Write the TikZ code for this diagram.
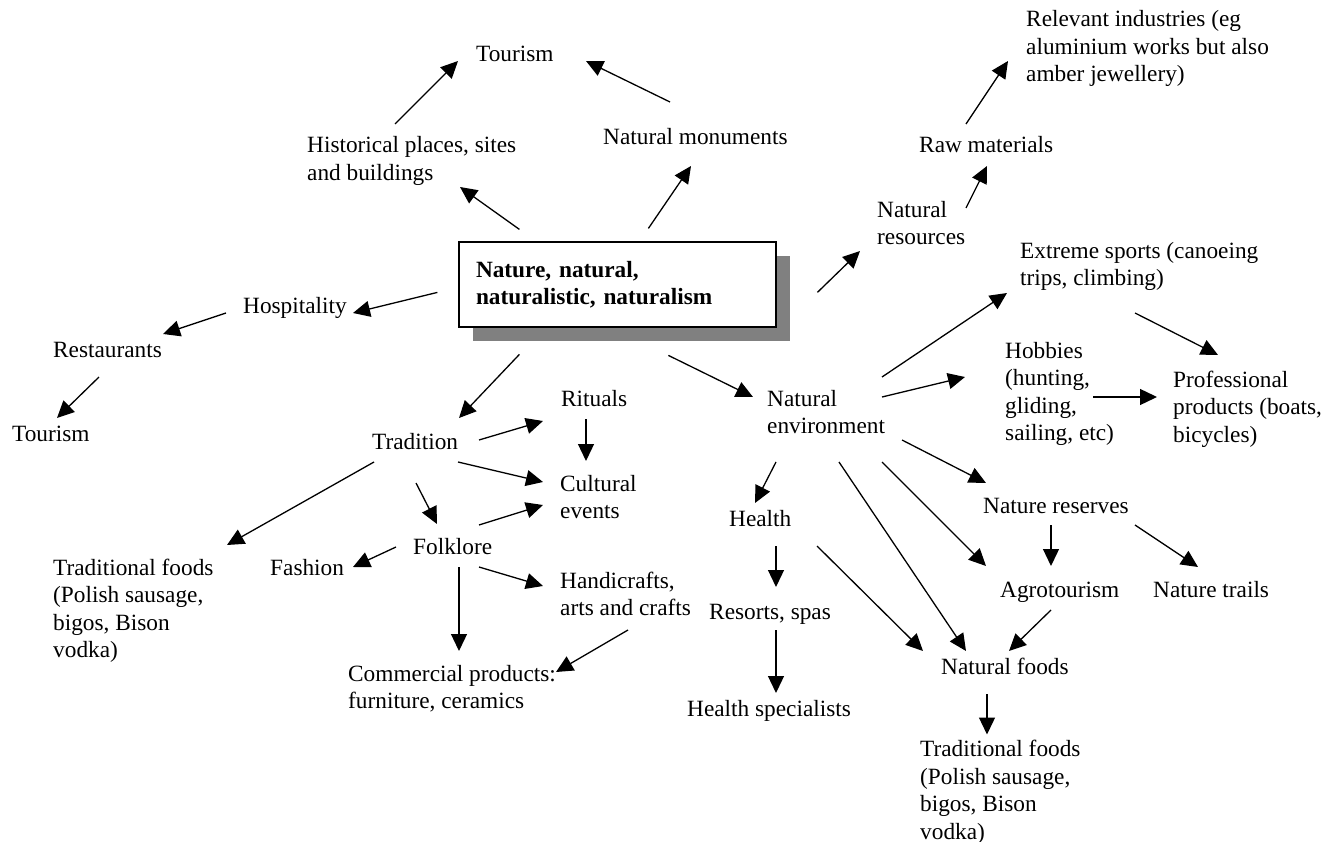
\documentclass[tikz,border=0pt]{standalone}
\usepackage{fontspec}
\setmainfont{Liberation Serif}
\usetikzlibrary{arrows.meta,calc,shadows}
\begin{document}
\frenchspacing
\begin{tikzpicture}[x=1pt,y=-1pt,
  lbl/.style={anchor=base west, inner sep=0pt, align=left, font=\fontsize{23.3}{27.5}\selectfont},
  arr/.style={line width=1.3pt, -{Triangle[length=17pt,width=16pt]}},
  corebox/.style={draw, line width=1.2pt, fill=white,
    drop shadow={shadow xshift=14pt, shadow yshift=-14pt, fill=black!50, opacity=1},
    text width=283pt, inner xsep=17pt, inner ysep=0pt, minimum height=85pt, align=left,
    font=\bfseries\fontsize{23.3}{27.5}\selectfont}]
\useasboundingbox (0,0) rectangle (1335,842);

% central box
\node[corebox] (core) at (617.5,284.5) {Nature, natural,\\naturalistic, naturalism};

% labels (anchored at the baseline of their last line)
\node[lbl] (tourA) at (476,62) {Tourism};
\node[lbl] (hist) at (307,180.5) {Historical places, sites\\and buildings};
\node[lbl] (natmon) at (603,145) {Natural monuments};
\node[lbl] (relev) at (1026,82) {Relevant industries (eg\\aluminium works but also\\amber jewellery)};
\node[lbl] (raw) at (919,153) {Raw materials};
\node[lbl] (natres) at (877,244.5) {Natural\\resources};
\node[lbl] (hosp) at (243,313) {Hospitality};
\node[lbl] (rest) at (53,357) {Restaurants};
\node[lbl] (tourB) at (12,441) {Tourism};
\node[lbl] (extreme) at (1020,285.5) {Extreme sports (canoeing\\trips, climbing)};
\node[lbl] (hobbies) at (1005,440.5) {Hobbies\\(hunting,\\gliding,\\sailing, etc)};
\node[lbl] (prof) at (1173,442) {Professional\\products (boats,\\bicycles)};
\node[lbl] (natenv) at (767,433.5) {Natural\\environment};
\node[lbl] (rituals) at (561,406) {Rituals};
\node[lbl] (trad) at (372,449) {Tradition};
\node[lbl] (cultural) at (560,518.5) {Cultural\\events};
\node[lbl] (folk) at (413,554) {Folklore};
\node[lbl] (fashion) at (270,575) {Fashion};
\node[lbl] (tfA) at (53,657.5) {Traditional foods\\(Polish sausage,\\bigos, Bison\\vodka)};
\node[lbl] (handi) at (560,615.5) {Handicrafts,\\arts and crafts};
\node[lbl] (comm) at (348,708.5) {Commercial products:\\furniture, ceramics};
\node[lbl] (health) at (729,526) {Health};
\node[lbl] (resorts) at (709,619) {Resorts, spas};
\node[lbl] (hspec) at (687,716) {Health specialists};
\node[lbl] (reserves) at (983,513) {Nature reserves};
\node[lbl] (agro) at (1000,597) {Agrotourism};
\node[lbl] (trails) at (1153,597) {Nature trails};
\node[lbl] (natfoods) at (941,674) {Natural foods};
\node[lbl] (tfB) at (920,839) {Traditional foods\\(Polish sausage,\\bigos, Bison\\vodka)};

% connectors
\draw[arr] ($(hist.base west)+(88,-56.5)$) -- ($(tourA.base west)+(-18,-1)$);
\draw[arr] ($(natmon.base west)+(67,-43)$) -- ($(tourA.base west)+(110,-1)$);
\draw[arr] ($(core.north west)+(61,-12)$) -- ($(hist.base west)+(153,6.5)$);
\draw[arr] ($(core.north west)+(190,-13)$) -- ($(natmon.base west)+(88,21)$);
\draw[arr] ($(core.north west)+(359,51)$) -- ($(natres.base west)+(-17,6.5)$);
\draw[arr] ($(natres.base west)+(89,-36.5)$) -- ($(raw.base west)+(68,13)$);
\draw[arr] ($(raw.base west)+(47,-29)$) -- ($(relev.base west)+(-18,-21)$);
\draw[arr] ($(core.north west)+(-21,51)$) -- ($(hosp.base west)+(110,0)$);
\draw[arr] ($(hosp.base west)+(-17,0)$) -- ($(rest.base west)+(110,-23)$);
\draw[arr] ($(rest.base west)+(46,20)$) -- ($(tourB.base west)+(45,-23)$);
\draw[arr] ($(core.north west)+(61,113)$) -- ($(trad.base west)+(87,-31)$);
\draw[arr] ($(core.north west)+(210,114)$) -- ($(natenv.base west)+(-14,-36.5)$);
\draw[arr] ($(natenv.base west)+(115,-56.5)$) -- ($(extreme.base west)+(-13,7.5)$);
\draw[arr] ($(natenv.base west)+(115,-36.5)$) -- ($(hobbies.base west)+(-40,-63.5)$);
\draw[arr] ($(extreme.base west)+(115,27.5)$) -- ($(prof.base west)+(45,-87)$);
\draw[arr] ($(hobbies.base west)+(88,-43.5)$) -- ($(prof.base west)+(-16,-45)$);
\draw[arr] ($(trad.base west)+(107,-9)$) -- ($(rituals.base west)+(-18,15)$);
\draw[arr] ($(rituals.base west)+(25,13)$) -- ($(cultural.base west)+(26,-57.5)$);
\draw[arr] ($(trad.base west)+(86,13)$) -- ($(cultural.base west)+(-17,-36.5)$);
\draw[arr] ($(trad.base west)+(44,34)$) -- ($(folk.base west)+(24,-30)$);
\draw[arr] ($(trad.base west)+(2,13)$) -- ($(tfA.base west)+(174,-112.5)$);
\draw[arr] ($(folk.base west)+(66,-29)$) -- ($(cultural.base west)+(-17,-13.5)$);
\draw[arr] ($(folk.base west)+(-17,-7)$) -- ($(fashion.base west)+(83,-8)$);
\draw[arr] ($(folk.base west)+(66,13)$) -- ($(handi.base west)+(-17,-29.5)$);
\draw[arr] ($(folk.base west)+(46,13)$) -- ($(comm.base west)+(111,-57.5)$);
\draw[arr] ($(handi.base west)+(68,14.5)$) -- ($(comm.base west)+(208,-36.5)$);
\draw[arr] ($(natenv.base west)+(9,28.5)$) -- ($(health.base west)+(26,-23)$);
\draw[arr] ($(natenv.base west)+(72,28.5)$) -- ($(natfoods.base west)+(25,-23)$);
\draw[arr] ($(natenv.base west)+(115,28.5)$) -- ($(agro.base west)+(-14,-31)$);
\draw[arr] ($(natenv.base west)+(135,6.5)$) -- ($(reserves.base west)+(3,-30)$);
\draw[arr] ($(reserves.base west)+(68,12)$) -- ($(agro.base west)+(51,-31)$);
\draw[arr] ($(reserves.base west)+(152,12)$) -- ($(trails.base west)+(45,-30)$);
\draw[arr] ($(health.base west)+(47,20)$) -- ($(resorts.base west)+(67,-32)$);
\draw[arr] ($(health.base west)+(88,20)$) -- ($(natfoods.base west)+(-18,-23)$);
\draw[arr] ($(agro.base west)+(51,13)$) -- ($(natfoods.base west)+(68,-23)$);
\draw[arr] ($(resorts.base west)+(67,11)$) -- ($(hspec.base west)+(89,-23)$);
\draw[arr] ($(natfoods.base west)+(46,20)$) -- ($(tfB.base west)+(67,-104.5)$);
\end{tikzpicture}
\end{document}
